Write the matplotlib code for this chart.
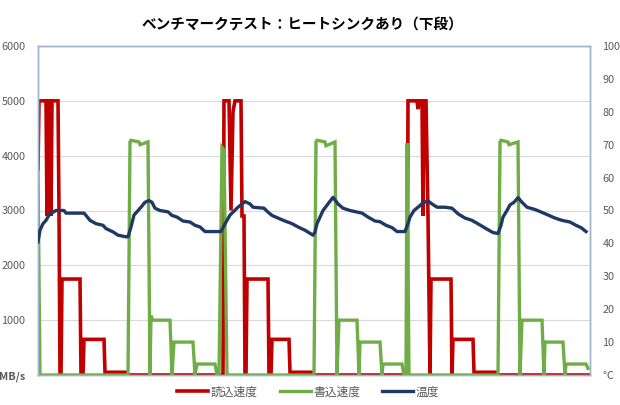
import matplotlib
matplotlib.use("Agg")
import matplotlib.pyplot as plt
import numpy as np

plt.rcParams['font.family'] = ['Noto Sans CJK JP', 'DejaVu Sans']

title = 'ベンチマークテスト：ヒートシンクあり（下段）'
labels = ['読込速度', '書込速度', '温度']

# time axis in sample units (no labels on the x axis)
read_t = [38, 39, 46, 47, 48, 50, 51, 52, 58, 59, 60, 61, 62, 80, 81, 83, 84, 104, 105, 126, 127,
          223, 224, 229, 231, 233, 235, 241, 242, 244, 245, 246, 247, 268, 269, 271, 272, 289, 290, 313, 314,
          407, 408, 417, 418, 419, 422, 423, 424, 426, 428, 430, 431, 451, 452, 453, 473, 474, 497, 498, 589]
read_mb = [3750, 5000, 5000, 2900, 5000, 5000, 2900, 5000, 5000, 3000, 0, 0, 1750, 1750, 0, 0, 650, 650, 50, 50, 0,
           0, 5000, 5000, 3000, 4800, 5000, 5000, 2900, 2900, 0, 0, 1750, 1750, 0, 0, 650, 650, 50, 50, 0,
           0, 5000, 5000, 4850, 5000, 5000, 2900, 5000, 5000, 2900, 0, 1750, 1750, 0, 650, 650, 50, 50, 0, 0]

write_t = [38, 40, 128, 130, 131, 139, 140, 148, 150, 151, 153, 170, 172, 174, 193, 195, 197, 215, 217,
           219, 222, 224, 227, 314, 316, 317, 325, 326, 335, 337, 339, 357, 359, 360, 380, 382, 383, 402, 404,
           406, 407, 409, 498, 500, 501, 508, 509, 518, 520, 522, 542, 544, 545, 563, 565, 566, 586, 588]
write_mb = [3700, 0, 0, 4250, 4280, 4250, 4200, 4250, 0, 1080, 1000, 1000, 0, 600, 600, 0, 200, 200, 0,
            0, 4150, 4100, 0, 0, 4250, 4280, 4250, 4180, 4250, 0, 1000, 1000, 0, 600, 600, 0, 200, 200, 0,
            0, 4230, 0, 0, 4250, 4280, 4250, 4200, 4250, 0, 1000, 1000, 0, 600, 600, 0, 200, 200, 120]

temp_t = [38, 40, 43, 46, 49, 53, 56, 64, 66, 84, 86, 90, 96, 103, 106, 113, 118, 126, 128,
          131, 134, 141, 145, 149, 152, 155, 160, 168, 172, 177, 183, 190, 195, 200, 205, 221,
          226, 230, 238, 245, 250, 253, 264, 268, 272, 278, 285, 292, 298, 305, 313,
          315, 317, 323, 328, 333, 338, 343, 350, 356, 362, 368, 375, 380, 386, 392, 397, 405,
          408, 410, 414, 418, 423, 428, 432, 437, 445, 452, 458, 465, 472, 480, 486, 493, 498,
          501, 503, 507, 510, 514, 518, 522, 527, 535, 543, 549, 555, 562, 570, 576, 581, 586]
temp_c = [40.5, 44, 46, 47, 48.6, 49.5, 50, 50, 49.2, 49.2, 48.5, 47, 46, 45.5, 44.5, 43.5, 42.5, 42, 42,
          45, 48.6, 51, 52.5, 53, 52.5, 50.7, 50, 49.6, 48.5, 48, 46.8, 46.5, 45.5, 45, 43.6, 43.6,
          46.5, 48.6, 51, 52.7, 52, 51, 50.7, 49.5, 48.5, 47.7, 46.8, 46, 45, 44, 42.5,
          43.5, 46, 50, 52, 54, 52, 50.7, 50, 49.6, 49.2, 48, 46.8, 46.6, 45.5, 44.8, 43.6, 43.6,
          46, 48, 50, 51, 52.3, 52.9, 52, 51, 51, 50.7, 49, 47.7, 47, 45.6, 44.5, 43.3, 43,
          45.5, 48, 50, 51.7, 52.5, 53.9, 52.5, 51, 50.3, 49.3, 48.5, 47.7, 47, 46.5, 45.5, 44.8, 43.6]

red = '#C00000'
green = '#70AD47'
navy = '#203864'
text_col = '#595959'

fig = plt.figure(figsize=(6.2, 4.05), dpi=100)
ax = fig.add_axes([38 / 620, 1 - 375 / 405, 552 / 620, 329 / 405])
ax2 = ax.twinx()

l1, = ax.plot(read_t, read_mb, color=red, lw=2.6, zorder=2, solid_joinstyle='miter')
l2, = ax.plot(write_t, write_mb, color=green, lw=2.4, zorder=3, solid_joinstyle='miter')
l3, = ax2.plot(temp_t, temp_c, color=navy, lw=2.4, zorder=4)

ax.set_xlim(38, 590)
ax.set_ylim(0, 6000)
ax2.set_ylim(0, 100)
ax.set_xticks([])

ax.set_yticks(np.arange(0, 6001, 1000))
ax.set_yticklabels(['MB/s'] + [str(v) for v in range(1000, 6001, 1000)])
ax2.set_yticks(np.arange(0, 101, 10))
ax2.set_yticklabels(['℃'] + [str(v) for v in range(10, 101, 10)])
ax.get_yticklabels()[0].set_fontweight('bold')

for a in (ax, ax2):
    a.tick_params(axis='y', length=0, labelsize=7.8, labelcolor=text_col, pad=9)
    for s in a.spines.values():
        s.set_color('#9FB4CB')
        s.set_linewidth(1)

ax.yaxis.grid(True, color='#D9D9D9', lw=0.8)
ax.set_axisbelow(True)
ax2.set_zorder(ax.get_zorder() + 1)
ax2.patch.set_visible(False)

fig.text(0.488, 1 - 24 / 405, title, ha='center', va='center', fontsize=10.5,
         fontweight='bold', color='#000000')

fig.legend([l1, l2, l3], labels, loc='center', bbox_to_anchor=(0.497, 1 - 392 / 405),
           ncol=3, frameon=False, fontsize=8.5, handlelength=2.6, handletextpad=0.2,
           columnspacing=1.9, labelcolor=text_col)

fig.savefig('out.png', dpi=100)
